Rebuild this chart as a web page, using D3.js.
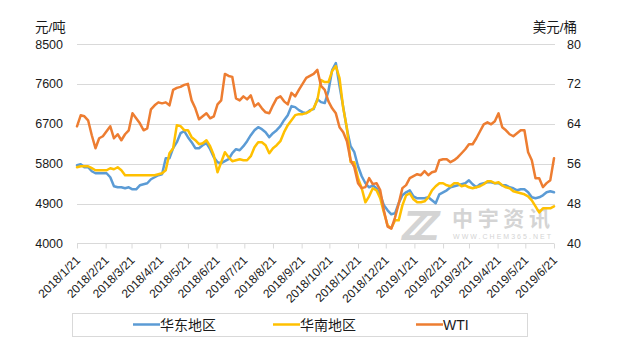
<!DOCTYPE html>
<html><head><meta charset="utf-8">
<script src="https://cdn.jsdelivr.net/npm/d3@7"></script>
<style>
body{margin:0;background:#fff;}
svg{display:block;font-family:"Liberation Sans",Arial,"Noto Sans CJK SC",sans-serif;}
</style>
</head><body>
<svg id="chart" width="617" height="355"></svg>
<script>
const dates = [
"2018-01-21","2018-01-25","2018-01-29","2018-02-02","2018-02-06","2018-02-10","2018-02-14","2018-02-18","2018-02-22","2018-02-26",
"2018-03-02","2018-03-06","2018-03-10","2018-03-14","2018-03-18","2018-03-22","2018-03-26","2018-03-30","2018-04-03","2018-04-07",
"2018-04-11","2018-04-15","2018-04-19","2018-04-23","2018-04-27","2018-05-01","2018-05-05","2018-05-09","2018-05-13","2018-05-17",
"2018-05-21","2018-05-25","2018-05-29","2018-06-02","2018-06-06","2018-06-10","2018-06-14","2018-06-18","2018-06-22","2018-06-26",
"2018-06-30","2018-07-04","2018-07-08","2018-07-12","2018-07-16","2018-07-20","2018-07-24","2018-07-28","2018-08-01","2018-08-05",
"2018-08-09","2018-08-13","2018-08-17","2018-08-21","2018-08-25","2018-08-29","2018-09-02","2018-09-06","2018-09-10","2018-09-14",
"2018-09-18","2018-09-22","2018-09-26","2018-09-30","2018-10-04","2018-10-08","2018-10-12","2018-10-16","2018-10-20","2018-10-24",
"2018-10-28","2018-11-01","2018-11-05","2018-11-09","2018-11-13","2018-11-17","2018-11-21","2018-11-25","2018-11-29","2018-12-03",
"2018-12-07","2018-12-11","2018-12-15","2018-12-19","2018-12-23","2018-12-27","2018-12-31","2019-01-04","2019-01-08","2019-01-12",
"2019-01-16","2019-01-20","2019-01-24","2019-01-28","2019-02-01","2019-02-05","2019-02-09","2019-02-13","2019-02-17","2019-02-21",
"2019-02-25","2019-03-01","2019-03-05","2019-03-09","2019-03-13","2019-03-17","2019-03-21","2019-03-25","2019-03-29","2019-04-02",
"2019-04-06","2019-04-10","2019-04-14","2019-04-18","2019-04-22","2019-04-26","2019-04-30","2019-05-04","2019-05-08","2019-05-12",
"2019-05-16","2019-05-20","2019-05-24","2019-05-28","2019-06-01","2019-06-05","2019-06-09","2019-06-13","2019-06-17","2019-06-21"
];
// 华东地区 (元/吨)
const eastValues = [
5765,5788,5720,5720,5630,5585,5585,5585,5585,5494,
5291,5268,5268,5246,5268,5223,5223,5313,5336,5359,
5449,5494,5539,5562,5924,5924,6150,6285,6489,6534,
6398,6285,6150,6150,6217,6263,6127,5946,5833,5811,
5856,5901,6037,6127,6104,6195,6308,6443,6556,6624,
6579,6511,6398,6489,6556,6647,6782,6895,7099,7076,
7008,6963,6941,7008,7031,7257,7189,7167,7438,7912,
8071,7551,7076,6579,6195,6059,5743,5517,5359,5268,
5313,5246,5110,4861,4748,4658,4681,4907,5087,5155,
5200,5065,5020,5020,5020,5042,4974,4907,5110,5155,
5200,5268,5291,5313,5336,5359,5426,5336,5268,5336,
5359,5381,5381,5359,5359,5313,5313,5268,5246,5200,
5223,5223,5155,5042,5020,5042,5087,5155,5178,5155
];
// 华南地区 (元/吨)
const southValues = [
5720,5743,5743,5743,5698,5652,5652,5652,5652,5698,
5675,5720,5652,5539,5539,5539,5539,5539,5539,5539,
5539,5539,5562,5585,5652,6037,6150,6669,6647,6556,
6556,6398,6330,6240,6263,6330,6195,5991,5607,5833,
6059,5946,5856,5878,5901,5878,5878,5969,6172,6285,
6285,6217,6037,6150,6217,6308,6511,6669,6782,6895,
6918,6918,6941,6986,7054,7234,7686,7641,7641,7890,
8003,7732,7054,6602,5833,5833,5472,5246,4929,5065,
5246,5200,5020,4703,4409,4342,4522,4522,4861,5087,
5133,4997,4929,4929,4952,5042,5200,5291,5359,5359,
5313,5291,5359,5359,5291,5313,5268,5246,5268,5291,
5336,5404,5404,5359,5381,5313,5268,5246,5178,5155,
5133,5110,5065,4974,4839,4703,4794,4794,4794,4839
];
// WTI (美元/桶)
const wtiValues = [
63.5,65.7,65.5,64.7,61.7,59.1,61.1,61.5,62.5,63.5,
61.1,61.9,60.7,61.9,62.7,66.1,65.1,64.1,62.7,63.1,
66.9,67.7,68.3,68.1,68.3,67.7,70.8,71.2,71.4,71.8,
72.0,68.7,67.1,64.9,65.5,66.1,65.1,65.5,67.9,68.7,
74.0,73.6,73.4,69.1,68.7,69.5,68.9,69.7,67.5,68.1,
67.1,66.3,66.1,67.7,69.1,69.5,68.5,67.9,70.2,69.5,
70.8,72.0,73.2,73.6,74.0,74.8,71.6,70.8,68.5,67.1,
66.1,63.3,62.3,60.5,56.7,55.3,52.1,51.1,51.3,53.1,
51.9,52.1,50.7,46.6,43.4,43.0,45.2,48.0,51.1,51.7,
53.1,53.5,53.9,53.7,54.5,53.7,54.3,54.5,56.7,56.9,
56.9,56.3,56.7,57.3,58.1,58.9,59.9,59.9,61.1,62.5,
63.9,64.3,63.9,64.5,66.1,63.3,62.7,61.9,61.5,62.1,
62.7,62.7,58.3,56.7,53.1,53.1,51.3,52.1,52.7,57.1
];
const leftTicks = [4000,4900,5800,6700,7600,8500];
const rightTicks = [40,48,56,64,72,80];
const xTickLabels = ["2018/1/21","2018/2/21","2018/3/21","2018/4/21","2018/5/21","2018/6/21","2018/7/21","2018/8/21","2018/9/21",
  "2018/10/21","2018/11/21","2018/12/21","2019/1/21","2019/2/21","2019/3/21","2019/4/21","2019/5/21","2019/6/21"];
const seriesNames = ["华东地区","华南地区","WTI"];
const seriesColors = ["#5b9bd5","#ffc000","#ed7d31"];
const leftUnit = "元/吨", rightUnit = "美元/桶";

const parseD = d3.timeParse("%Y-%m-%d");
const parseL = d3.timeParse("%Y/%m/%d");
const dts = dates.map(parseD);
const tickDates = xTickLabels.map(parseL);

const svg = d3.select("#chart");
const x = d3.scaleTime().domain([tickDates[0], tickDates[tickDates.length-1]]).range([77, 554]);
const yL = d3.scaleLinear().domain([4000,8500]).range([243.5,44]);
const yR = d3.scaleLinear().domain([40,80]).range([243.5,44]);
const txt = "#1a1a1a";

// gridlines
svg.append("g").selectAll("line").data(leftTicks.slice(1)).join("line")
  .attr("x1",77).attr("x2",555).attr("y1",d=>Math.round(yL(d))+0.5).attr("y2",d=>Math.round(yL(d))+0.5)
  .attr("stroke","#d9d9d9").attr("stroke-width",1);

// left labels
svg.append("g").selectAll("text").data(leftTicks).join("text")
  .attr("x",63).attr("y",d=>yL(d)).attr("dy","0.36em").attr("text-anchor","end")
  .attr("font-size","12.5px").attr("fill",txt).text(d=>d);
// right labels
svg.append("g").selectAll("text").data(rightTicks).join("text")
  .attr("x",567).attr("y",d=>yR(d)).attr("dy","0.36em").attr("text-anchor","start")
  .attr("font-size","12.5px").attr("fill",txt).text(d=>d);

// units
svg.append("text").attr("x",35).attr("y",32).attr("font-size","13.5px").attr("fill",txt).text(leftUnit);
svg.append("text").attr("x",577).attr("y",32).attr("text-anchor","end").attr("font-size","13.5px").attr("fill",txt).text(rightUnit);

// x axis
const xAxis = d3.axisBottom(x).tickValues(tickDates).tickSize(5).tickFormat("");
const gx = svg.append("g").attr("transform","translate(0,243.5)").call(xAxis);
gx.select(".domain").attr("stroke","#d9d9d9").attr("d","M77,0H554");
gx.selectAll(".tick line").attr("stroke","#d9d9d9");
svg.append("g").selectAll("text").data(tickDates).join("text")
  .attr("transform",(d)=>`translate(${x(d)+4},261) rotate(-45)`)
  .attr("text-anchor","end").attr("font-size","12px").attr("fill",txt)
  .text((d,i)=>xTickLabels[i]);

// watermark
const wm = svg.append("g").attr("fill","#d4d4d4");
wm.append("text").attr("x",402).attr("y",240).attr("font-size","42px").attr("font-weight","bold")
  .attr("font-style","italic").attr("letter-spacing","-14px").text("ZZ");
wm.append("text").attr("x",452).attr("y",226).attr("font-size","21px").attr("font-weight","bold")
  .attr("font-family","Noto Sans CJK SC").attr("textLength",98).text("中宇资讯");
wm.append("text").attr("x",453).attr("y",239).attr("font-size","7px")
  .attr("textLength",98).text("WWW.CHEM365.NET");

// lines
const series = [eastValues, southValues, wtiValues];
const scales = [yL, yL, yR];
series.forEach((vals,k)=>{
  const line = d3.line().x((d,i)=>x(dts[i])).y(d=>scales[k](d));
  svg.append("path").datum(vals).attr("d",line).attr("fill","none")
    .attr("stroke",seriesColors[k]).attr("stroke-width",2.5)
    .attr("stroke-linejoin","round").attr("stroke-linecap","round");
});

// legend
const lg = svg.append("g");
lg.append("rect").attr("x",72.5).attr("y",313.5).attr("width",455).attr("height",23)
  .attr("fill","#fff").attr("stroke","#d9d9d9");
const lgX = [133,273,416];
seriesNames.forEach((n,k)=>{
  lg.append("line").attr("x1",lgX[k]).attr("x2",lgX[k]+27).attr("y1",324.5).attr("y2",324.5)
    .attr("stroke",seriesColors[k]).attr("stroke-width",2.5);
  lg.append("text").attr("x",lgX[k]+27).attr("y",324.5).attr("dominant-baseline","central")
    .attr("font-size","14px").attr("fill",txt).text(n);
});
</script>
</body></html>
